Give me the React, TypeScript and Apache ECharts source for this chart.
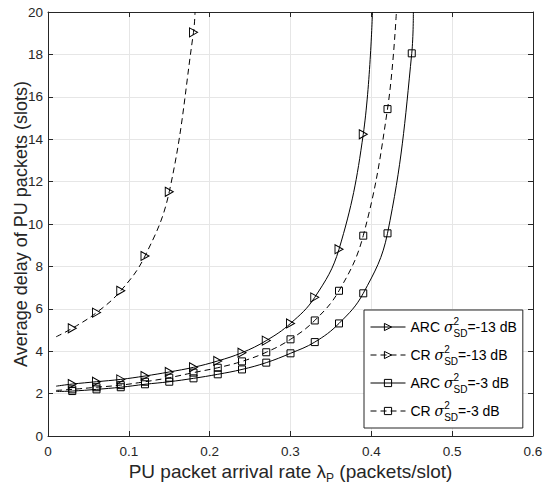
import React, { useEffect, useRef } from "react";
import * as echarts from "echarts";

// ARC, sigma^2_SD = -13 dB (solid, triangles)
const arc13X = [0.01, 0.03, 0.06, 0.09, 0.12, 0.15, 0.18, 0.21, 0.24, 0.27, 0.3, 0.33, 0.36, 0.39, 0.4014];
const arc13Y = [2.35, 2.45, 2.56, 2.67, 2.83, 3.02, 3.24, 3.54, 3.93, 4.5, 5.31, 6.54, 8.81, 14.23, 20];
// CR, sigma^2_SD = -13 dB (dashed, triangles)
const cr13X = [0.01, 0.03, 0.06, 0.09, 0.12, 0.15, 0.18, 0.1819];
const cr13Y = [4.68, 5.08, 5.82, 6.85, 8.49, 11.52, 19.04, 20];
// ARC, sigma^2_SD = -3 dB (solid, squares)
const arc3X = [0.01, 0.03, 0.06, 0.09, 0.12, 0.15, 0.18, 0.21, 0.24, 0.27, 0.3, 0.33, 0.36, 0.39, 0.42, 0.45, 0.452];
const arc3Y = [2.1, 2.12, 2.2, 2.3, 2.44, 2.56, 2.72, 2.91, 3.14, 3.46, 3.9, 4.43, 5.31, 6.73, 9.56, 18.05, 20];
// CR, sigma^2_SD = -3 dB (dashed, squares)
const cr3X = [0.01, 0.03, 0.06, 0.09, 0.12, 0.15, 0.18, 0.21, 0.24, 0.27, 0.3, 0.33, 0.36, 0.39, 0.42, 0.431];
const cr3Y = [2.15, 2.2, 2.3, 2.4, 2.56, 2.75, 2.99, 3.22, 3.52, 3.95, 4.56, 5.45, 6.85, 9.45, 15.42, 20];

const seriesNames = ["ARC -13", "CR -13", "ARC -3", "CR -3"];
const legendLabels: Record<string, [string, string]> = {
  "ARC -13": ["ARC ", "=-13 dB"],
  "CR -13": ["CR ", "=-13 dB"],
  "ARC -3": ["ARC ", "=-3 dB"],
  "CR -3": ["CR ", "=-3 dB"],
};

const xTicks = { min: 0, max: 0.6, interval: 0.1 };
const yTicks = { min: 0, max: 20, interval: 2 };

const FONT = "Liberation Sans, Arial, sans-serif";
const TRI = "path://M0,0L10,5L0,10Z";

function buildData(xs: number[], ys: number[]) {
  const last = xs.length - 1;
  return xs.map((x, i) =>
    i === 0 || i === last ? { value: [x, ys[i]], symbol: "none" } : { value: [x, ys[i]] }
  );
}

function makeSeries(name: string, xs: number[], ys: number[], dashed: boolean, tri: boolean) {
  return {
    name,
    type: "line",
    data: buildData(xs, ys),
    smooth: 0.4,
    symbol: tri ? TRI : "rect",
    symbolSize: tri ? [8, 9] : [7, 7],
    showAllSymbol: true,
    clip: true,
    lineStyle: { color: "#000", width: 1, type: dashed ? [6, 4] : "solid" },
    itemStyle: { color: "rgba(255,255,255,0)", borderColor: "#000", borderWidth: 1 },
    emphasis: { disabled: true },
    z: 3,
  };
}

export default function App() {
  const ref = useRef<HTMLDivElement>(null);
  useEffect(() => {
    if (!ref.current) return;
    const chart = echarts.init(ref.current, null, { renderer: "svg" });
    const axisColor = "#262626";
    const option = {
      animation: false,
      backgroundColor: "#fff",
      grid: { left: 48, right: 17, top: 12, bottom: 49, containLabel: false, outerBoundsMode: "none" },
      legend: {
        orient: "vertical",
        left: 364,
        top: 310,
        padding: [6, 6, 6, 6],
        itemGap: 6,
        itemWidth: 35,
        itemHeight: 9,
        borderColor: "#262626",
        borderWidth: 1,
        backgroundColor: "#fff",
        data: seriesNames,
        lineStyle: { width: 1, color: "#000" },
        itemStyle: { color: "rgba(255,255,255,0)", borderColor: "#000", borderWidth: 1 },
        formatter: (name: string) => {
          const [a, b] = legendLabels[name];
          return `{t|${a}}{s|σ}{sup|2}{sub|SD}{t|${b}}`;
        },
        textStyle: {
          color: "#000",
          fontFamily: FONT,
          fontSize: 14,
          rich: {
            t: { fontFamily: FONT, fontSize: 14, color: "#000", lineHeight: 22, verticalAlign: "middle" },
            s: { fontFamily: "DejaVu Serif", fontStyle: "italic", fontSize: 14, color: "#000", lineHeight: 22, verticalAlign: "middle" },
            sup: { fontFamily: FONT, fontSize: 10, color: "#000", lineHeight: 22, verticalAlign: "top", width: 0 },
            sub: { fontFamily: FONT, fontSize: 10, color: "#000", lineHeight: 22, verticalAlign: "bottom" },
          },
        },
      },
      xAxis: [
        {
          type: "value",
          ...xTicks,
          position: "bottom",
          name: "PU packet arrival rate λ{p|P} (packets/slot)",
          nameLocation: "middle",
          nameGap: 22,
          nameMoveOverlap: false,
          nameTextStyle: {
            fontFamily: FONT,
            fontSize: 19,
            lineHeight: 26,
            color: axisColor,
            rich: { p: { fontFamily: FONT, fontSize: 12, color: axisColor, verticalAlign: "bottom", lineHeight: 26 } },
          },
          axisLine: { show: true, lineStyle: { color: axisColor, width: 1 } },
          axisTick: { show: true, inside: true, length: 5, lineStyle: { color: axisColor } },
          axisLabel: { color: axisColor, fontFamily: FONT, fontSize: 13.5, margin: 8 },
          splitLine: { show: true, lineStyle: { color: "#e6e6e6", width: 1 } },
        },
        {
          type: "value",
          ...xTicks,
          position: "top",
          axisLine: { show: true, onZero: false, lineStyle: { color: axisColor, width: 1 } },
          axisTick: { show: true, inside: true, length: 5, lineStyle: { color: axisColor } },
          axisLabel: { show: false },
          splitLine: { show: false },
        },
      ],
      yAxis: [
        {
          type: "value",
          ...yTicks,
          position: "left",
          name: "Average delay of PU packets (slots)",
          nameLocation: "middle",
          nameGap: 18,
          nameMoveOverlap: false,
          nameTextStyle: { fontFamily: FONT, fontSize: 18, color: axisColor },
          axisLine: { show: true, lineStyle: { color: axisColor, width: 1 } },
          axisTick: { show: true, inside: true, length: 5, lineStyle: { color: axisColor } },
          axisLabel: { color: axisColor, fontFamily: FONT, fontSize: 13.5, margin: 5 },
          splitLine: { show: true, lineStyle: { color: "#e6e6e6", width: 1 } },
        },
        {
          type: "value",
          ...yTicks,
          position: "right",
          axisLine: { show: true, onZero: false, lineStyle: { color: axisColor, width: 1 } },
          axisTick: { show: true, inside: true, length: 5, lineStyle: { color: axisColor } },
          axisLabel: { show: false },
          splitLine: { show: false },
        },
      ],
      series: [
        makeSeries("ARC -13", arc13X, arc13Y, false, true),
        makeSeries("CR -13", cr13X, cr13Y, true, true),
        makeSeries("ARC -3", arc3X, arc3Y, false, false),
        makeSeries("CR -3", cr3X, cr3Y, true, false),
      ],
    };
    chart.setOption(option as any);
    return () => chart.dispose();
  }, []);
  return <div ref={ref} style={{ width: 550, height: 485, position: "absolute", left: 0, top: 0 }} />;
}
